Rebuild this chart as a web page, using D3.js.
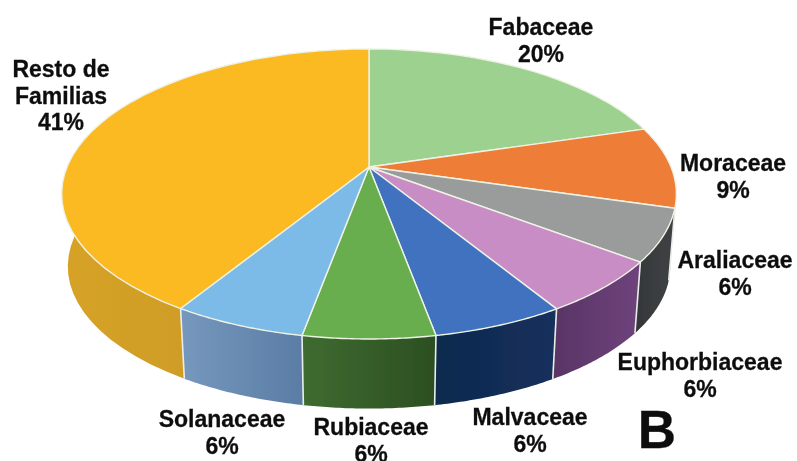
<!DOCTYPE html>
<html><head><meta charset="utf-8">
<style>html,body{margin:0;padding:0;background:#fff}svg{display:block}text{font-family:"Liberation Sans",Arial,sans-serif;font-weight:700;fill:#111;text-anchor:middle;stroke:#111;stroke-width:.3}</style>
<script src="https://cdn.jsdelivr.net/npm/d3@7"></script></head><body>
<svg id="c" width="797" height="461"></svg>
<script>
const categories = ["Fabaceae","Moraceae","Araliaceae","Euphorbiaceae","Malvaceae","Rubiaceae","Solanaceae","Resto de Familias"];
const shares = [20.4,9.1,5.8,5.95,5.85,5.8,5.9,41.2];
const topColors = ["#9cd18f","#ee7d37","#9a9b9b","#c88dc5","#3f72c0","#67ae4f","#7cbbe8","#fbb924"];
const wallFrom = ["#7da36f","#b05c2c","#3f4244","#6f437c","#13305c","#3f6b30","#7798bd","#d6a226"];
const wallTo   = ["#6f9060","#9a5026","#36393b","#5a3566","#10294f","#2c4f22","#5a7da5","#c59526"];
const labelLines = [["Fabaceae","20%"],["Moraceae","9%"],["Araliaceae","6%"],["Euphorbiaceae","6%"],["Malvaceae","6%"],["Rubiaceae","6%"],["Solanaceae","6%"],["Resto de","Familias","41%"]];
const labelAnchors = [[541,35],[733,171],[735,268],[700,370],[530,425],[371,435],[222,427],[61,77]];

const cx=369, cy=167, depth=73, shrink=0.98;
const persp=0.186, radY=140, radX=302;
const svg=d3.select("#c");
const defs=svg.append("defs");
defs.append("filter").attr("id","soft").attr("x","-5%").attr("y","-5%").attr("width","110%").attr("height","110%")
  .append("feGaussianBlur").attr("stdDeviation",0.55);
const root=svg.append("g").attr("filter","url(#soft)");

function proj(a){
  const u=Math.sin(a), v=-Math.cos(a), d=1-persp*v;
  return [cx+radX*u/d, cy+radY*v/d];
}
function low(p){ return [cx+(p[0]-cx)*shrink, cy+(p[1]-cy)*shrink+depth]; }
const arcPts=(a0,a1)=>d3.range(0,41).map(i=>proj(a0+(a1-a0)*i/40));
const pie=d3.pie().sort(null).value(d=>d)(shares);
const line=d3.line();

const wallOrder=[0,1,7,2,6,3,5,4];
wallOrder.forEach(i=>{
  const s=pie[i];
  const tp=arcPts(s.startAngle,s.endAngle), bt=tp.map(low).reverse();
  const g=defs.append("linearGradient").attr("id","w"+i).attr("gradientUnits","userSpaceOnUse")
    .attr("x1",d3.min(tp,p=>p[0])).attr("x2",d3.max(tp,p=>p[0])).attr("y1",0).attr("y2",0);
  const isRight=i<=4;
  g.append("stop").attr("offset",0).attr("stop-color",isRight?wallTo[i]:wallFrom[i]);
  g.append("stop").attr("offset",1).attr("stop-color",isRight?wallFrom[i]:wallTo[i]);
  root.append("path").attr("d",line(tp.concat(bt))+"Z").attr("fill",`url(#w${i})`);
});
[2,3,4,5,6,7].forEach(i=>{
  const p=proj(pie[i].startAngle);
  root.append("path").attr("d",line([p,low(p)])).attr("stroke","#e9eee8").attr("stroke-width",1.6).attr("fill","none");
});
pie.forEach((s,i)=>{
  root.append("path").attr("d",line([[cx,cy]].concat(arcPts(s.startAngle,s.endAngle)))+"Z")
    .attr("fill",topColors[i]).attr("stroke","#eef3e6").attr("stroke-width",1.4).attr("stroke-linejoin","round");
});
labelLines.forEach((ls,i)=>{
  ls.forEach((t,j)=>{
    root.append("text").attr("x",labelAnchors[i][0]).attr("y",labelAnchors[i][1]+j*26.5)
      .attr("font-size",23).text(t);
  });
});
root.append("text").attr("x",657).attr("y",448).attr("font-size",53).text("B");
</script></body></html>
